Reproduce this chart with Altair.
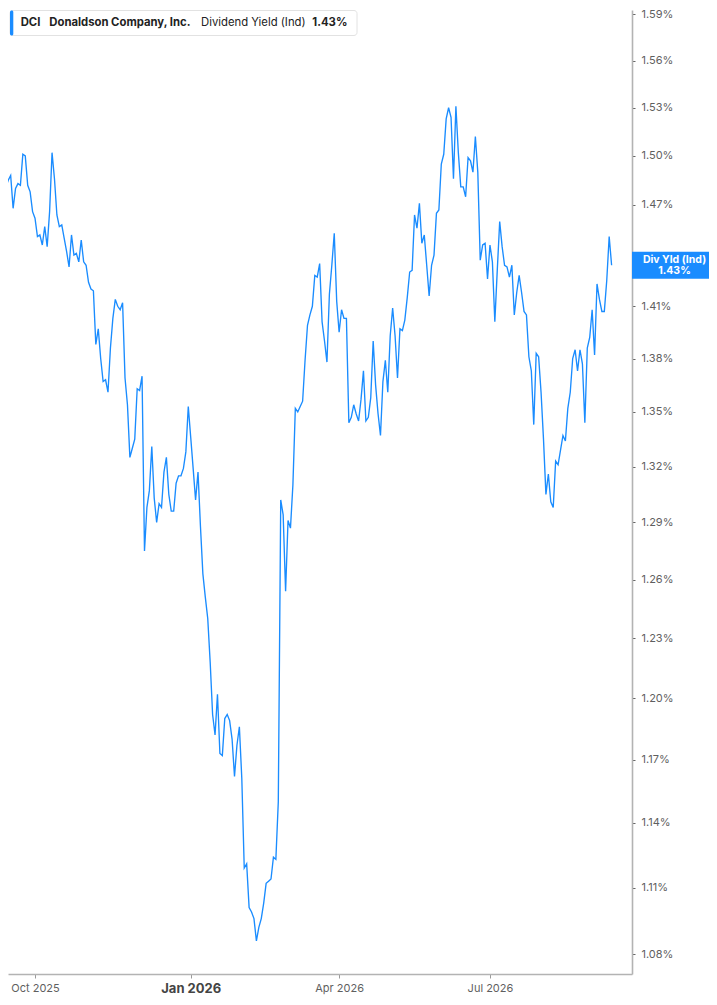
import altair as alt
import pandas as pd

# Dividend yield (%) per trading day, Sep 2025 - Sep 2026
yield_pct = [
    1.471, 1.484, 1.481, 1.485, 1.488, 1.468, 1.480, 1.483, 1.482, 1.501,
    1.500, 1.482, 1.478, 1.466, 1.462, 1.451, 1.452, 1.446, 1.457, 1.445,
    1.466, 1.502, 1.486, 1.464, 1.457, 1.458, 1.450, 1.442, 1.433, 1.452,
    1.440, 1.441, 1.436, 1.449, 1.436, 1.434, 1.424, 1.420, 1.419, 1.388,
    1.397, 1.380, 1.367, 1.368, 1.361, 1.386, 1.403, 1.414, 1.410, 1.408,
    1.412, 1.369, 1.354, 1.325, 1.330, 1.335, 1.363, 1.362, 1.370, 1.275,
    1.298, 1.307, 1.331, 1.303, 1.290, 1.300, 1.298, 1.317, 1.325, 1.305,
    1.296, 1.296, 1.311, 1.315, 1.315, 1.319, 1.328, 1.353, 1.336, 1.319,
    1.302, 1.317, 1.288, 1.263, 1.251, 1.240, 1.218, 1.192, 1.182, 1.202,
    1.173, 1.172, 1.190, 1.192, 1.189, 1.180, 1.162, 1.177, 1.186, 1.161,
    1.119, 1.121, 1.101, 1.099, 1.096, 1.086, 1.092, 1.096, 1.103, 1.112,
    1.113, 1.114, 1.124, 1.123, 1.150, 1.302, 1.294, 1.254, 1.291, 1.287,
    1.310, 1.352, 1.350, 1.353, 1.356, 1.379, 1.399, 1.405, 1.410, 1.428,
    1.427, 1.435, 1.401, 1.390, 1.378, 1.417, 1.434, 1.453, 1.413, 1.395,
    1.408, 1.403, 1.403, 1.344, 1.347, 1.354, 1.349, 1.345, 1.357, 1.373,
    1.345, 1.347, 1.358, 1.390, 1.365, 1.349, 1.337, 1.367, 1.379, 1.361,
    1.393, 1.409, 1.393, 1.369, 1.397, 1.396, 1.402, 1.415, 1.430, 1.431,
    1.464, 1.456, 1.471, 1.447, 1.452, 1.434, 1.416, 1.434, 1.440, 1.465,
    1.467, 1.495, 1.501, 1.523, 1.530, 1.524, 1.486, 1.531, 1.502, 1.481,
    1.481, 1.475, 1.499, 1.497, 1.490, 1.512, 1.490, 1.437, 1.446, 1.447,
    1.426, 1.446, 1.436, 1.401, 1.431, 1.460, 1.445, 1.434, 1.433, 1.427,
    1.434, 1.405, 1.418, 1.428, 1.418, 1.407, 1.405, 1.381, 1.373, 1.343,
    1.383, 1.381, 1.361, 1.335, 1.305, 1.316, 1.301, 1.298, 1.323, 1.321,
    1.329, 1.337, 1.334, 1.352, 1.361, 1.380, 1.385, 1.373, 1.385, 1.377,
    1.344, 1.386, 1.392, 1.408, 1.382, 1.423, 1.414, 1.407, 1.407, 1.425,
    1.451, 1.434,
]

# month ticks (trading-day index of the first session of the month)
month_ticks = [14, 78, 139, 201]
month_labels = ["Oct 2025", "Jan 2026", "Apr 2026", "Jul 2026"]
bold_tick = 78

y_ticks = [1.08, 1.11, 1.14, 1.17, 1.20, 1.23, 1.26, 1.29, 1.32, 1.35,
           1.38, 1.41, 1.44, 1.47, 1.50, 1.53, 1.56, 1.59]
hidden_tick = 1.44  # covered by the last-value marker

ticker = "DCI"
company = "Donaldson Company, Inc."
metric = "Dividend Yield (Ind)"
marker_title = "Div Yld (Ind)"
last_text = f"{yield_pct[-1]:.2f}%"

BLUE = "#1a8cff"
FONT = "Inter"

df = pd.DataFrame({"day": list(range(len(yield_pct))), "v": yield_pct})
last_df = df.tail(1)
one = pd.DataFrame({"k": [0]})

x_expr = " : ".join(f"datum.value == {t} ? '{l}'" for t, l in zip(month_ticks, month_labels)) + " : ''"
y_expr = f"abs(datum.value - {hidden_tick}) < 0.001 ? '' : format(datum.value, '.2f') + '%'"

x_scale = alt.Scale(domain=[2.90, 259.38], nice=False, zero=False)
y_scale = alt.Scale(type="log", domain=[1.07128, 1.5928], nice=False, zero=False)

x_axis = alt.Axis(
    values=month_ticks, labelExpr=x_expr, title=None, grid=False,
    domainColor="#b3b3b3", domainWidth=1.6, tickColor="#9a9a9a", tickSize=4, tickWidth=1,
    labelColor={"condition": {"test": f"datum.value == {bold_tick}", "value": "#444444"}, "value": "#5f5f5f"},
    labelFontSize={"condition": {"test": f"datum.value == {bold_tick}", "value": 13}, "value": 11},
    labelFontWeight={"condition": {"test": f"datum.value == {bold_tick}", "value": "bold"}, "value": "normal"},
    labelFont=FONT, labelPadding=4, labelFlush=False, zindex=0,
)
y_axis = alt.Axis(
    orient="right", values=y_ticks, labelExpr=y_expr,
    title=None, grid=False, domainColor="#b3b3b3", domainWidth=1.6,
    tickColor="#666666", tickSize=3, tickWidth=1, labelColor="#5f5f5f",
    labelFontSize=11, labelFont=FONT, labelPadding=6, labelOverlap=False, zindex=0,
)

line = alt.Chart(df).mark_line(color=BLUE, strokeWidth=1.35, clip=True).encode(
    x=alt.X("day:Q", scale=x_scale, axis=x_axis),
    y=alt.Y("v:Q", scale=y_scale, axis=y_axis),
)

marker = alt.Chart(last_df).mark_rect(color=BLUE, height=27).encode(
    y=alt.Y("v:Q"), x=alt.value(624), x2=alt.value(701),
)
marker_text = alt.Chart(last_df).mark_text(
    color="white", font=FONT, fontSize=10.5, fontWeight="bold", align="center",
    baseline="middle", lineHeight=11, dy=-5.5
).encode(y=alt.Y("v:Q"), x=alt.value(666.5), text=alt.value([marker_title, last_text]))

box = alt.Chart(one).mark_rect(fill="white", stroke="#e2e2e2", strokeWidth=1, cornerRadius=3).encode(
    x=alt.value(2), x2=alt.value(349), y=alt.value(0.5), y2=alt.value(25.5)
)
bar = alt.Chart(one).mark_rect(fill=BLUE, cornerRadius=1.5).encode(
    x=alt.value(2), x2=alt.value(5.3), y=alt.value(0.5), y2=alt.value(25.5)
)

def htext(txt, xpos, weight):
    return alt.Chart(one).mark_text(
        font=FONT, fontSize=11.3, fontWeight=weight, color="#222222",
        align="left", baseline="middle"
    ).encode(x=alt.value(xpos), y=alt.value(13.3), text=alt.value(txt))

header = [
    htext(ticker, 12.7, "bold"),
    htext(company, 41.3, "bold"),
    htext(metric, 193, "normal"),
    htext(last_text, 304.3, "bold"),
]

chart = alt.layer(line, marker, marker_text, box, bar, *header).properties(
    width=624, height=964,
    padding=0,
    background="white",
).configure_view(stroke=None)

chart.save("out.html", embed_options={"renderer": "svg", "actions": False})
